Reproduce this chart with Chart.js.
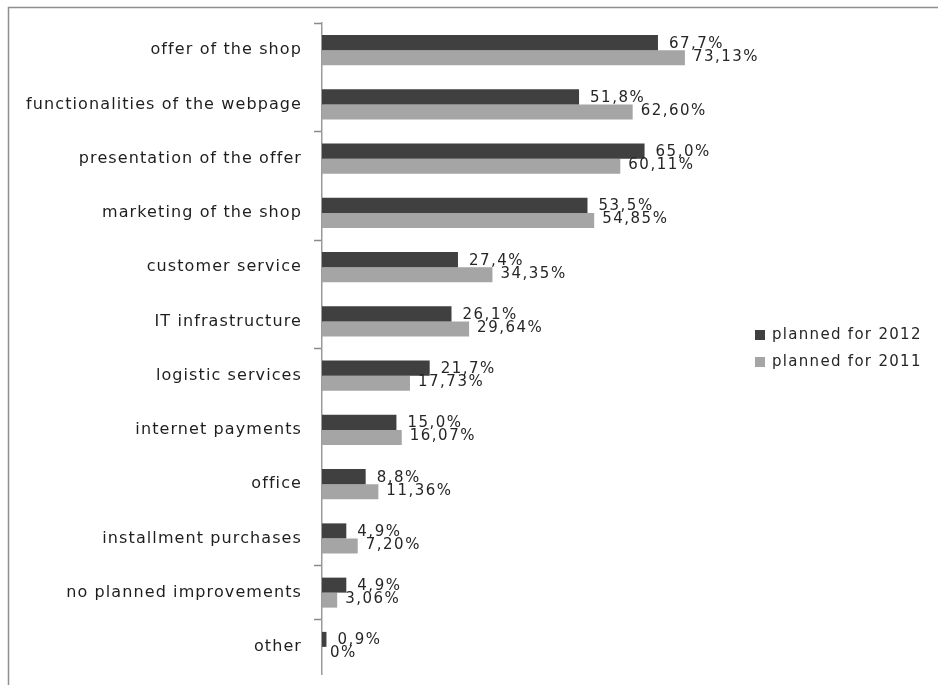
<!DOCTYPE html>
<html>
<head>
<meta charset="utf-8">
<script src="https://cdn.jsdelivr.net/npm/chart.js@4/dist/chart.umd.min.js"></script>
<style>
html,body{margin:0;padding:0;background:#fff;overflow:hidden;}
canvas{display:block;}
</style>
</head>
<body>
<canvas id="c" width="938" height="685"></canvas>
<script>
const categories = [
  "offer of the shop",
  "functionalities of the webpage",
  "presentation of the offer",
  "marketing of the shop",
  "customer service",
  "IT infrastructure",
  "logistic services",
  "internet payments",
  "office",
  "installment purchases",
  "no planned improvements",
  "other"
];
const planned2012 = [67.7, 51.8, 65.0, 53.5, 27.4, 26.1, 21.7, 15.0, 8.8, 4.9, 4.9, 0.9];
const planned2011 = [73.13, 62.60, 60.11, 54.85, 34.35, 29.64, 17.73, 16.07, 11.36, 7.20, 3.06, 0];
const seriesNames = ["planned for 2012", "planned for 2011"];
const seriesDecimals = [1, 2];
const tickedBoundaries = [0, 2, 4, 6, 10, 11];

function fmt(v, d) {
  if (v === 0) return "0%";
  return v.toFixed(d).replace(".", ",") + "%";
}

const frame = {
  id: "frame",
  beforeUpdate(chart) { chart.ctx.letterSpacing = "1.1px"; },
  beforeDraw(chart) {
    const ctx = chart.ctx;
    ctx.letterSpacing = "1.1px";
    ctx.save();
    ctx.strokeStyle = "#8f8f8f";
    ctx.lineWidth = 1.5;
    ctx.beginPath();
    ctx.moveTo(8.5, 685);
    ctx.lineTo(8.5, 7.5);
    ctx.lineTo(938, 7.5);
    ctx.stroke();
    ctx.restore();
  },
  afterDatasetsDraw(chart) {
    const ctx = chart.ctx;
    ctx.save();
    ctx.font = "15px 'DejaVu Sans'";
    ctx.letterSpacing = "1.5px";
    ctx.fillStyle = "#262626";
    ctx.textAlign = "left";
    ctx.textBaseline = "middle";
    chart.data.datasets.forEach((ds, di) => {
      const meta = chart.getDatasetMeta(di);
      meta.data.forEach((bar, i) => {
        const v = ds.data[i];
        ctx.fillText(fmt(v, seriesDecimals[di]), bar.x + (di === 0 ? 11 : 8), bar.y + (di === 0 ? 1 : -1));
      });
    });
    // legend
    ctx.letterSpacing = "1.3px";
    const lx = 755, ly = [335, 362];
    chart.data.datasets.forEach((ds, di) => {
      ctx.fillStyle = ds.backgroundColor;
      ctx.fillRect(lx, ly[di] - 5, 10, 10);
      ctx.fillStyle = "#262626";
      ctx.fillText(ds.label, lx + 17, ly[di]);
    });
    ctx.restore();
  }
};

new Chart(document.getElementById("c"), {
  type: "bar",
  data: {
    labels: categories,
    datasets: [
      { label: seriesNames[0], data: planned2012, backgroundColor: "#404040" },
      { label: seriesNames[1], data: planned2011, backgroundColor: "#a5a5a5" }
    ]
  },
  options: {
    indexAxis: "y",
    responsive: false,
    animation: false,
    events: [],
    layout: { padding: { left: 0, top: 23, right: 219, bottom: 11 } },
    datasets: { bar: { categoryPercentage: 0.553, barPercentage: 1.0 } },
    plugins: { legend: { display: false }, tooltip: { enabled: false } },
    scales: {
      x: { display: false, min: 0, max: 80 },
      y: {
        afterFit(scale) { scale.width = 322; scale.paddingTop = 0; scale.paddingBottom = 0; },
        border: { display: true, color: "#9a9a9a", width: 1.5 },
        grid: {
          drawOnChartArea: false,
          drawTicks: true,
          tickLength: 8,
          offset: true,
          tickColor: (c) => tickedBoundaries.includes(c.index) ? "#8a8a8a" : "rgba(0,0,0,0)",
          tickWidth: 1.5
        },
        ticks: {
          padding: 12,
          color: "#1e1e1e",
          font: { family: "'DejaVu Sans'", size: 16 }
        }
      }
    }
  },
  plugins: [frame]
});
</script>
</body>
</html>
